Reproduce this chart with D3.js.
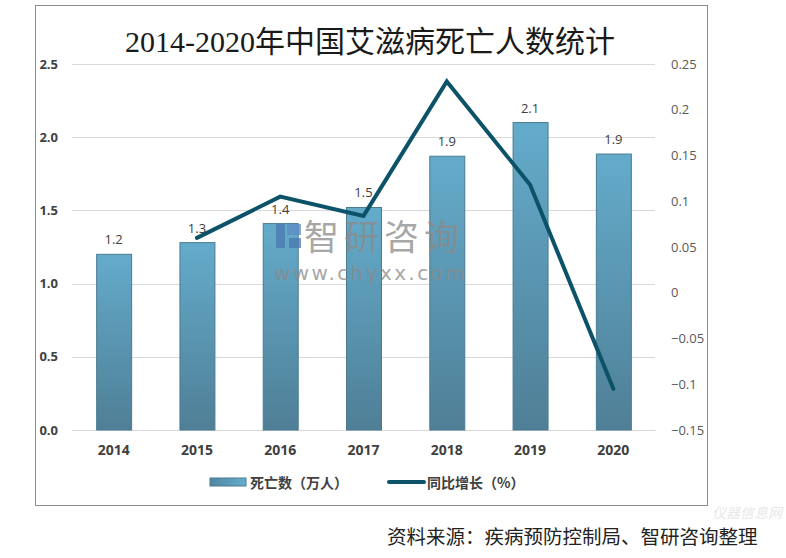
<!DOCTYPE html>
<html><head><meta charset="utf-8">
<script src="https://cdn.jsdelivr.net/npm/d3@7"></script>
<style>
html,body{margin:0;padding:0;background:#fff;}
svg{display:block;}
</style></head>
<body>
<script>
const years = ["2014","2015","2016","2017","2018","2019","2020"];
const deaths = [1.2, 1.28, 1.41, 1.52, 1.87, 2.1, 1.885];
const deathLabels = ["1.2","1.3","1.4","1.5","1.9","2.1","1.9"];
const growthYears = ["2015","2016","2017","2018","2019","2020"];
const growth = [0.06, 0.105, 0.084, 0.231, 0.118, -0.105];
const leftTicks = [0, 0.5, 1.0, 1.5, 2.0, 2.5];
const rightTicks = [0.25, 0.2, 0.15, 0.1, 0.05, 0, -0.05, -0.1, -0.15];
const title = "2014-2020年中国艾滋病死亡人数统计";
const legendBar = "死亡数（万人）";
const legendLine = "同比增长（%）";
const source = "资料来源：疾病预防控制局、智研咨询整理";

const W = 786, H = 558;
const svg = d3.select("body").append("svg").attr("width", W).attr("height", H);
const defs = svg.append("defs");
const grad = defs.append("linearGradient").attr("id","barGrad").attr("x1",0).attr("y1",0).attr("x2",0).attr("y2",1);
grad.append("stop").attr("offset","0%").attr("stop-color","#64abcb");
grad.append("stop").attr("offset","100%").attr("stop-color","#4f7f96");
const lgrad = defs.append("linearGradient").attr("id","legGrad").attr("x1",0).attr("y1",0).attr("x2",1).attr("y2",0);
lgrad.append("stop").attr("offset","0%").attr("stop-color","#4f86a0");
lgrad.append("stop").attr("offset","100%").attr("stop-color","#66aecd");

// frame
svg.append("rect").attr("x",35.5).attr("y",5.5).attr("width",672).attr("height",500)
  .attr("fill","#fff").attr("stroke","#8c8c8c").attr("stroke-width",1);

const x0 = 72, x1 = 655, yTop = 64, yBot = 430;
const x = d3.scaleBand().domain(years).range([x0, x1]).paddingInner(0.58).paddingOuter(0.29);
const yL = d3.scaleLinear().domain([0, 2.5]).range([yBot, yTop]);
const yR = d3.scaleLinear().domain([-0.15, 0.25]).range([yBot, yTop]);

// gridlines
svg.append("g").selectAll("line").data(leftTicks).join("line")
  .attr("x1", x0).attr("x2", x1)
  .attr("y1", d => Math.round(yL(d)) + 0.5).attr("y2", d => Math.round(yL(d)) + 0.5)
  .attr("stroke", "#d9d9d9").attr("stroke-width", 1);

// left axis
const axL = svg.append("g").attr("transform", `translate(${x0},0)`)
  .call(d3.axisLeft(yL).tickValues(leftTicks).tickFormat(d3.format(".1f")).tickSize(0).tickPadding(14));
axL.select(".domain").remove();
axL.selectAll("text").attr("font-family","Open Sans, Noto Sans, sans-serif").attr("font-size",13)
  .attr("font-weight","bold").attr("fill","#404040");

// right axis
const axR = svg.append("g").attr("transform", `translate(${x1},0)`)
  .call(d3.axisRight(yR).tickValues(rightTicks).tickFormat(d => d3.format("")(+d.toFixed(2))).tickSize(0).tickPadding(16));
axR.select(".domain").remove();
axR.selectAll("text").attr("font-family","Open Sans, Noto Sans, sans-serif").attr("font-size",13)
  .attr("fill","#595959");

// x axis
const axX = svg.append("g").attr("transform", `translate(0,${yBot})`)
  .call(d3.axisBottom(x).tickSize(0).tickPadding(15));
axX.select(".domain").attr("stroke","#d9d9d9");
axX.selectAll("text").attr("font-family","Open Sans, Noto Sans, sans-serif").attr("font-size",14)
  .attr("font-weight","bold").attr("fill","#404040");

// bars
svg.append("g").selectAll("rect").data(years).join("rect")
  .attr("x", d => x(d) + 0.5).attr("width", x.bandwidth())
  .attr("y", (d,i) => yL(deaths[i])).attr("height", (d,i) => yBot - yL(deaths[i]))
  .attr("fill", "url(#barGrad)").attr("stroke", "#4a7b91").attr("stroke-width", 1);

// bar labels
svg.append("g").selectAll("text").data(years).join("text")
  .attr("x", d => x(d) + x.bandwidth()/2).attr("y", (d,i) => yL(deaths[i]) - 10)
  .attr("text-anchor","middle").attr("font-family","Open Sans, Noto Sans, sans-serif")
  .attr("font-size",13).attr("fill","#404040").text((d,i) => deathLabels[i]);

// watermark
const wm = svg.append("g").attr("opacity",0.75);
wm.append("rect").attr("x",276).attr("y",224).attr("width",9).attr("height",24).attr("fill","#4a78b0");
wm.append("rect").attr("x",287).attr("y",224).attr("width",14).attr("height",11).attr("fill","#5b8cc4");
wm.append("rect").attr("x",289).attr("y",238).attr("width",12).attr("height",10).attr("fill","#4a78b0");
wm.append("text").attr("x",304).attr("y",250).attr("font-family","Noto Sans CJK SC").attr("font-size",35)
  .attr("letter-spacing",5).attr("fill","#8a8a8a").text("智研咨询");
wm.append("text").attr("x",274).attr("y",280).attr("font-family","DejaVu Sans, sans-serif").attr("font-size",20)
  .attr("fill","#8a8a8a").attr("letter-spacing",2.4).text("www.chyxx.com");

// line
const line = d3.line().x(d => x(d.y) + x.bandwidth()/2).y(d => yR(d.v));
const ldata = growthYears.map((y,i) => ({y, v: growth[i]}));
svg.append("path").datum(ldata).attr("d", line)
  .attr("fill","none").attr("stroke","#0c5369").attr("stroke-width",4)
  .attr("stroke-linejoin","miter").attr("stroke-linecap","round");

// title
svg.append("text").attr("x", 370).attr("y", 52).attr("text-anchor","middle")
  .attr("font-family","Liberation Serif, Noto Sans CJK SC, serif").attr("font-size",30)
  .attr("fill","#1a1a1a").text(title);

// legend
svg.append("rect").attr("x",210).attr("y",478).attr("width",36).attr("height",8)
  .attr("fill","url(#legGrad)").attr("stroke","#4a7b91");
svg.append("text").attr("x",250).attr("y",488).attr("font-family","Noto Sans CJK SC, sans-serif")
  .attr("font-size",14).attr("font-weight","bold").attr("fill","#404040").text(legendBar);
svg.append("line").attr("x1",389).attr("x2",424).attr("y1",482).attr("y2",482)
  .attr("stroke","#0c5369").attr("stroke-width",4).attr("stroke-linecap","round");
svg.append("text").attr("x",427).attr("y",488).attr("font-family","Noto Sans CJK SC, sans-serif")
  .attr("font-size",14).attr("font-weight","bold").attr("fill","#404040").text(legendLine);

// source
svg.append("text").attr("x",387).attr("y",544).attr("font-family","Noto Sans CJK SC, sans-serif")
  .attr("font-size",19.5).attr("fill","#222").text(source);

// faint corner watermark
svg.append("text").attr("x",712).attr("y",518).attr("font-family","Noto Sans CJK SC, sans-serif")
  .attr("font-size",14).attr("font-style","italic").attr("fill","#e8e8e8").text("仪器信息网");
</script>
</body></html>
